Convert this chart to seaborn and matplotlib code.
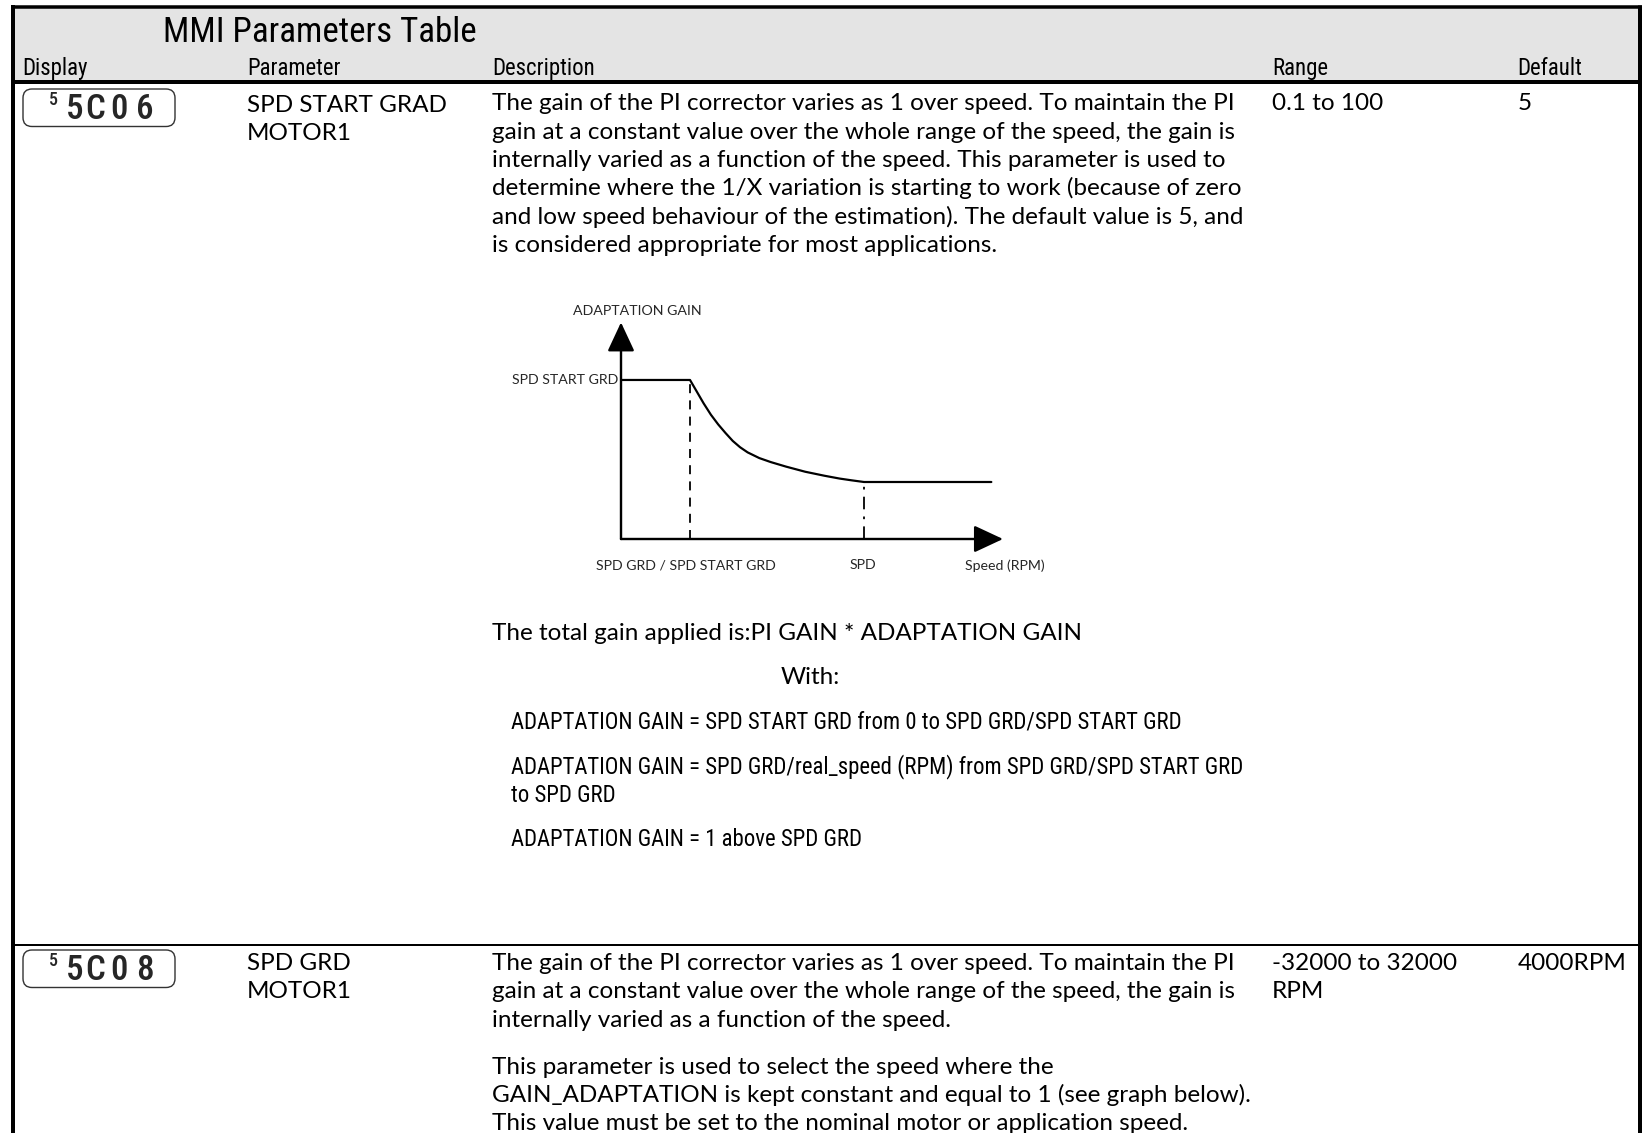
import matplotlib
matplotlib.use('Agg')
import matplotlib.pyplot as plt
import seaborn as sns
import pandas as pd
from matplotlib import font_manager as fm
from matplotlib.patches import FancyBboxPatch, Rectangle

# ---------------- data ----------------
title = "MMI Parameters Table"
columns = ["Display", "Parameter", "Description", "Range", "Default"]

row1_display = ["5", "5", "C", "0", "6"]
row1_parameter = ["SPD START GRAD", "MOTOR1"]
row1_description = [
    "The gain of the PI corrector varies as 1 over speed. To maintain the PI",
    "gain at a constant value over the whole range of the speed, the gain is",
    "internally varied as a function of the speed. This parameter is used to",
    "determine where the 1/X variation is starting to work (because of zero",
    "and low speed behaviour of the estimation). The default value is 5, and",
    "is considered appropriate for most applications.",
]
row1_range = ["0.1 to 100"]
row1_default = "5"
total_gain_text = "The total gain applied is:PI GAIN * ADAPTATION GAIN"
with_text = "With:"
formula_lines = [
    "ADAPTATION GAIN = SPD START GRD from 0 to SPD GRD/SPD START GRD",
    "ADAPTATION GAIN = SPD GRD/real_speed (RPM) from SPD GRD/SPD START GRD",
    "to SPD GRD",
    "ADAPTATION GAIN = 1 above SPD GRD",
]

row2_display = ["5", "5", "C", "0", "8"]
row2_parameter = ["SPD GRD", "MOTOR1"]
row2_description = [
    "The gain of the PI corrector varies as 1 over speed. To maintain the PI",
    "gain at a constant value over the whole range of the speed, the gain is",
    "internally varied as a function of the speed.",
    "This parameter is used to select the speed where the",
    "GAIN_ADAPTATION is kept constant and equal to 1 (see graph below).",
    "This value must be set to the nominal motor or application speed.",
]
row2_range = ["-32000 to 32000", "RPM"]
row2_default = "4000RPM"

# adaptation gain curve (arbitrary units: SPD = 1000, flat gain = 1)
speed = [0, 284, 310, 340, 370, 400, 430, 460, 490, 521, 569, 616, 679, 758, 837, 900, 948, 1000, 1524]
gain = [2.79, 2.79, 2.60, 2.38, 2.18, 2.01, 1.86, 1.72, 1.61, 1.52, 1.42, 1.35, 1.27, 1.18, 1.11, 1.06, 1.03, 1.0, 1.0]
x_axis_end = 1572
y_axis_end = 3.80
graph_y_label = "ADAPTATION GAIN"
graph_level_label = "SPD START GRD"
graph_x_labels = ["SPD GRD / SPD START GRD", "SPD", "Speed (RPM)"]

# ---------------- fonts ----------------
def has_font(name):
    try:
        fm.findfont(fm.FontProperties(family=name), fallback_to_default=False)
        return True
    except Exception:
        return False

sns.set_theme(style="white")
BODY = "Lato" if has_font("Lato") else "DejaVu Sans"
NARROW = "DejaVu Sans"
for cand in ["Liberation Sans Narrow", "Roboto Condensed", "Open Sans Condensed", "Roboto", "Liberation Sans"]:
    if has_font(cand):
        NARROW = cand
        break
plt.rcParams["font.family"] = [BODY, "DejaVu Sans"]
NF = [NARROW, "DejaVu Sans"]

W, H = 1642, 1133
fig = plt.figure(figsize=(W / 100, H / 100), dpi=100)
fig.patch.set_facecolor("white")
page = fig.add_axes([0, 0, 1, 1])
page.set_xlim(0, W)
page.set_ylim(H, 0)
page.axis("off")

def px(v):
    return v * 72 / 100

# ---------------- frame ----------------
page.add_patch(Rectangle((13, 6), 1626, 75, facecolor="#e4e4e4", edgecolor="none", zorder=0))
page.plot([11, W], [6.5, 6.5], color="black", lw=px(3.5), solid_capstyle="butt")
page.plot([13, 13], [5, H], color="black", lw=px(4), solid_capstyle="butt")
page.plot([1639.5, 1639.5], [5, H], color="black", lw=px(5), solid_capstyle="butt")
page.plot([13, 1639], [81.5, 81.5], color="black", lw=px(4), solid_capstyle="butt")
page.plot([13, 1639], [944.5, 944.5], color="black", lw=px(2), solid_capstyle="butt")

renderer = fig.canvas.get_renderer()

def fit(t, width):
    w = t.get_window_extent(renderer=renderer).width
    t.set_fontsize(t.get_fontsize() * width / w)
    return t.get_fontsize()

# ---------------- header ----------------
t = page.text(163, 42, title, family=NF, fontsize=22, va="baseline", color="black")
fit(t, 315)
col_x = [22.7, 247, 492, 1272, 1517]
hdr = []
for x, c in zip(col_x, columns):
    hdr.append(page.text(x, 75, c, family=NF, fontsize=14, va="baseline", color="black"))
hs = fit(hdr[-1], 65)
for h in hdr:
    h.set_fontsize(hs)

# ---------------- display icons ----------------
def icon(y0, chars):
    page.add_patch(FancyBboxPatch((23, y0), 152, 37.5, boxstyle="round,pad=0,rounding_size=9",
                                  facecolor="white", edgecolor="#333333", lw=px(1.4), zorder=2))
    page.text(53, y0 + 11, chars[0], family=NF, fontweight="medium",
              fontsize=px(18), ha="center", va="center", zorder=3)
    for cx, ch in zip([75, 95, 119, 145], chars[1:]):
        page.text(cx, y0 + 20.5, ch, family=NF, fontweight="medium",
                  fontsize=px(35), ha="center", va="center", zorder=3)

icon(89, row1_display)
icon(950, row2_display)

# ---------------- body text ----------------
body = []
def btext(x, y, s, **kw):
    t = page.text(x, y, s, fontsize=16, va="baseline", color="black", **kw)
    body.append(t)
    return t

ref = btext(492, 110.5, row1_description[0])
for i, line in enumerate(row1_description[1:], start=1):
    btext(492, 110.5 + i * 28.3, line)
btext(247, 111.5, row1_parameter[0])
btext(247, 139.8, row1_parameter[1])
btext(1272, 110.5, row1_range[0])
btext(1518, 110.5, row1_default)
btext(492, 639.5, total_gain_text)
btext(781, 684.5, with_text)

btext(247, 970, row2_parameter[0])
btext(247, 998.3, row2_parameter[1])
d_y = [970, 998.3, 1026.6, 1073.5, 1101.8, 1130.1]
for y, line in zip(d_y, row2_description):
    btext(492, y, line)
btext(1272, 970, row2_range[0])
btext(1272, 998.3, row2_range[1])
btext(1518, 970, row2_default)

bs = fit(ref, 743)
for t in body:
    t.set_fontsize(bs)

# formula lines (condensed)
fy = [728, 773, 801.5, 846]
ftexts = [page.text(511, y, s, family=NF, fontsize=16, va="baseline",
                    color="black") for y, s in zip(fy, formula_lines)]
fs = fit(ftexts[0], 673)
for t in ftexts:
    t.set_fontsize(fs)

# ---------------- adaptation gain graph ----------------
ox, oy = 621, 539
sx = (864 - 621) / 1000.0
sy = (539 - 482) / 1.0
aw, ah = 420, 240
ax = fig.add_axes([ox / W, (H - oy) / H, aw / W, ah / H])
ax.set_xlim(0, aw / sx)
ax.set_ylim(0, ah / sy)
ax.axis("off")
ax.patch.set_alpha(0)

df = pd.DataFrame({"speed": speed, "gain": gain})
sns.lineplot(data=df, x="speed", y="gain", ax=ax, color="black", lw=px(2.2), sort=False,
             estimator=None)
ax.vlines(speed[1], 0, gain[1], colors="black", lw=px(1.8), linestyles=(0, (5, 4)))
ax.vlines(speed[-2], 0, gain[-2], colors="black", lw=px(1.8), linestyles=(0, (7, 4, 1.5, 4)))
arrow = dict(arrowstyle="-|>,head_length=0.9,head_width=0.42", color="black", lw=px(2.4),
             shrinkA=0, shrinkB=0, mutation_scale=20)
ax.annotate("", xy=(x_axis_end, 0), xytext=(0, 0), arrowprops=arrow, annotation_clip=False)
ax.annotate("", xy=(0, y_axis_end), xytext=(0, 0), arrowprops=arrow, annotation_clip=False)

g1 = page.text(637, 311, graph_y_label, fontsize=9, ha="center", va="center")
g2 = page.text(618, 380, graph_level_label, fontsize=9, ha="right", va="center")
g3 = page.text(686, 565, graph_x_labels[0], fontsize=9, ha="center", va="center")
g4 = page.text(863, 565, graph_x_labels[1], fontsize=9, ha="center", va="center")
g5 = page.text(1005, 566, graph_x_labels[2], fontsize=9, ha="center", va="center")
gs = fit(g3, 180)
for t in (g1, g2, g3, g4, g5):
    t.set_fontsize(gs)

fig.savefig("out.png", dpi=100, facecolor="white")
